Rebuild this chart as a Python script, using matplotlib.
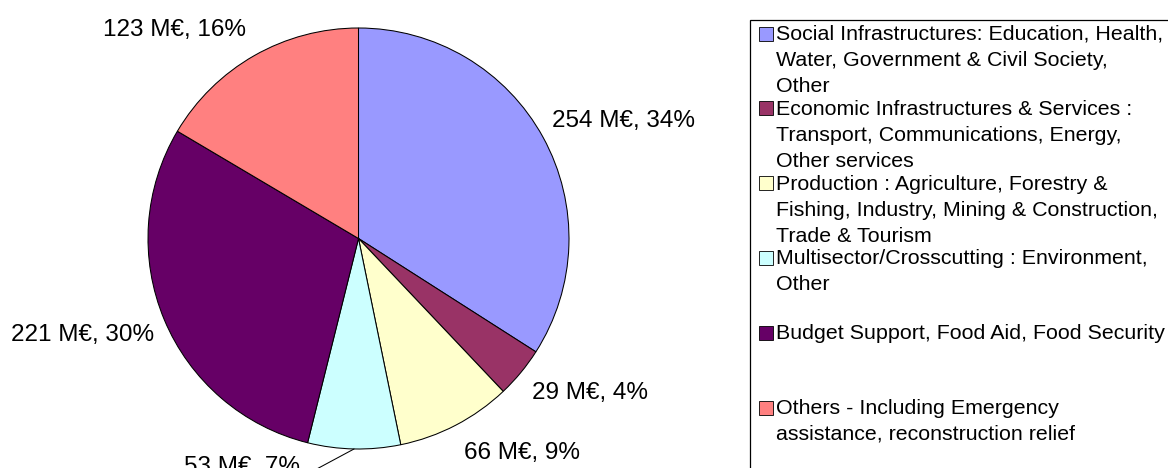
import matplotlib
matplotlib.use("Agg")
import matplotlib.pyplot as plt
import numpy as np
from matplotlib.patches import Rectangle

plt.rcParams["font.family"] = ["Liberation Sans", "DejaVu Sans"]

# ---- data ----
categories = [
    "Social Infrastructures: Education, Health,\nWater, Government & Civil Society,\nOther",
    "Economic Infrastructures & Services :\nTransport, Communications, Energy,\nOther services",
    "Production : Agriculture, Forestry &\nFishing, Industry, Mining & Construction,\nTrade & Tourism",
    "Multisector/Crosscutting : Environment,\nOther",
    "Budget Support, Food Aid, Food Security",
    "Others - Including Emergency\nassistance, reconstruction relief",
]
values = [254, 29, 66, 53, 221, 123]
colors = ["#9999FF", "#993366", "#FFFFCC", "#CCFFFF", "#660066", "#FF8080"]

# ---- layout (pixels) ----
W, H = 1168, 468
fig = plt.figure(figsize=(W / 100, H / 100), dpi=100)
ax = fig.add_axes([0, 0, 1, 1])

cx, cy, R = 358.5, H - 238.5, 210.5
wedges, _ = ax.pie(values, colors=colors, startangle=90, counterclock=False,
                   center=(cx, cy), radius=R,
                   wedgeprops=dict(edgecolor="black", linewidth=0.75))
for w in wedges:
    w.set_clip_on(False)
ax.set_xlim(0, W)
ax.set_ylim(0, H)
ax.axis("off")

total = sum(values)
label_r = [1.05, 1.07, 1.09, 1.0, 1.05, 1.08]
lab_fs = 17.5
for i, (w, v) in enumerate(zip(wedges, values)):
    pct = round(v / total * 100)
    txt = f"{v} M€, {pct}%"
    mid = np.deg2rad((w.theta1 + w.theta2) / 2)
    ca, sa = np.cos(mid), np.sin(mid)
    if i == 3:
        ex, ey = cx + R * ca, cy + R * sa
        ax.annotate(txt, xy=(ex, ey), xytext=(-54, -7), textcoords="offset pixels",
                    ha="right", va="top", fontsize=lab_fs, annotation_clip=False,
                    arrowprops=dict(arrowstyle="-", lw=0.75, color="black",
                                    shrinkA=0, shrinkB=0, relpos=(1, 0)))
        continue
    r = R * label_r[i]
    ax.text(cx + r * ca, cy + r * sa, txt, fontsize=lab_fs,
            ha="left" if ca > 0 else "right",
            va="bottom" if sa > 0 else "top")

# ---- legend ----
ax.add_patch(Rectangle((750, -20), 500, H - 20 + 20, fill=False,
                       edgecolor="black", linewidth=0.9, clip_on=True))
leg_fs = 15.4
for i, (lab, col) in enumerate(zip(categories, colors)):
    base = 40 + i * 74.8
    ax.add_patch(Rectangle((759, H - base - 0.5), 14, 14, facecolor=col,
                           edgecolor="black", linewidth=0.6))
    for k, line in enumerate(lab.split("\n")):
        ax.text(776, H - (base + k * 26), line, fontsize=leg_fs,
                ha="left", va="baseline")

fig.savefig("out.png", dpi=100)
